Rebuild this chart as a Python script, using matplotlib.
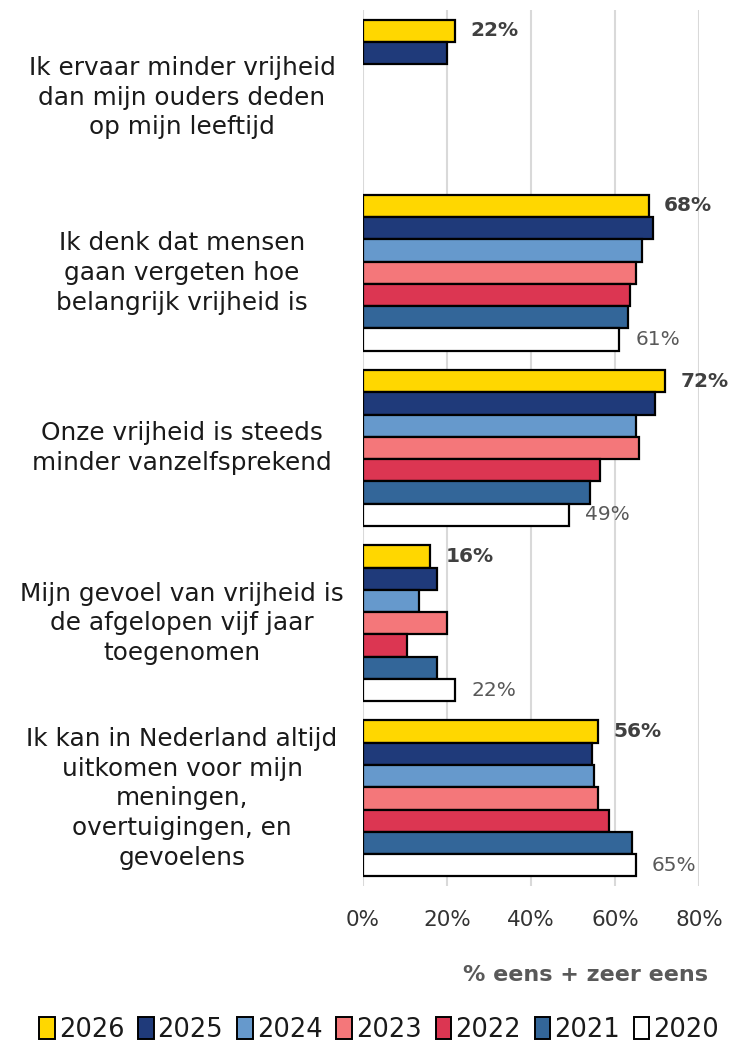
import matplotlib
matplotlib.use("Agg")
import matplotlib.pyplot as plt
import matplotlib.transforms as mtransforms
from matplotlib.patches import Patch
import numpy as np

plt.rcParams['font.family'] = ['DejaVu Sans']

# data (% eens + zeer eens)
statements = [
    "Ik ervaar minder vrijheid\ndan mijn ouders deden\nop mijn leeftijd",
    "Ik denk dat mensen\ngaan vergeten hoe\nbelangrijk vrijheid is",
    "Onze vrijheid is steeds\nminder vanzelfsprekend",
    "Mijn gevoel van vrijheid is\nde afgelopen vijf jaar\ntoegenomen",
    "Ik kan in Nederland altijd\nuitkomen voor mijn\nmeningen,\novertuigingen, en\ngevoelens",
]
years = ["2026", "2025", "2024", "2023", "2022", "2021", "2020"]
v2026 = [22, 68, 72, 16, 56]
v2025 = [20, 69, 69.5, 17.5, 54.5]
v2024 = [np.nan, 66.5, 65, 13.3, 55]
v2023 = [np.nan, 65, 65.6, 20, 56]
v2022 = [np.nan, 63.5, 56.5, 10.5, 58.6]
v2021 = [np.nan, 63, 54, 17.7, 64]
v2020 = [np.nan, 61, 49, 22, 65]
series = [v2026, v2025, v2024, v2023, v2022, v2021, v2020]
colors = ["#FFD700", "#1F3A7A", "#6699CC", "#F4777A", "#DC3652", "#336699", "#FFFFFF"]

fig = plt.figure(figsize=(7.29, 10.45), dpi=100)
ax = fig.add_axes([363/729, 1 - 886/1045, (699 - 363)/729, (886 - 10)/1045])

n = len(years)
h = 0.89 / n
ypos = np.arange(len(statements))
for j, (vals, col) in enumerate(zip(series, colors)):
    y = ypos + (j - (n - 1) / 2) * h
    vals = np.array(vals, dtype=float)
    ok = ~np.isnan(vals)
    ax.barh(y[ok], vals[ok], height=h, color=col, edgecolor="black",
            linewidth=1.6, zorder=3)

# value labels: newest year bold, oldest year light
for i in range(len(statements)):
    y = ypos[i] + (0 - (n - 1) / 2) * h
    ax.annotate(f"{v2026[i]:.0f}%", (v2026[i], y), xytext=(15, 0),
                textcoords="offset pixels", va="center", ha="left",
                fontsize=14.5, fontweight="bold", color="#404040")
    if not np.isnan(v2020[i]):
        y = ypos[i] + (n - 1 - (n - 1) / 2) * h
        ax.annotate(f"{v2020[i]:.0f}%", (v2020[i], y), xytext=(16, 0),
                    textcoords="offset pixels", va="center", ha="left",
                    fontsize=14.5, color="#595959")

ax.set_xlim(0, 80)
ax.set_ylim(len(statements) - 0.5, -0.5)
ax.set_xticks([0, 20, 40, 60, 80])
ax.set_xticklabels(["0%", "20%", "40%", "60%", "80%"], fontsize=15.5, color="#333333")
ax.tick_params(axis="x", length=0, pad=17)
ax.set_yticks([])
ax.grid(axis="x", color="#D9D9D9", linewidth=1.5, zorder=0)
for s in ax.spines.values():
    s.set_visible(False)

# category labels, centred in the left half
trans = mtransforms.blended_transform_factory(fig.transFigure, ax.transData)
for i, txt in enumerate(statements):
    ax.text(182/729, ypos[i], txt, transform=trans, ha="center", va="center",
            multialignment="center", fontsize=17.8, color="#1a1a1a",
            linespacing=1.3)

fig.text(708/729, 1 - 975/1045, "% eens + zeer eens", ha="right", va="center",
         fontsize=16, fontweight="bold", color="#595959")

handles = [Patch(facecolor=c, edgecolor="black", linewidth=1.4) for c in colors]
fig.legend(handles, years, loc="center", bbox_to_anchor=(0.52, 1 - 1030/1045),
           ncol=7, frameon=False, fontsize=18.5, handlelength=0.6, handleheight=0.9,
           handletextpad=0.15, columnspacing=0.55, labelcolor="#1a1a1a")

fig.savefig("out.png", dpi=100)
